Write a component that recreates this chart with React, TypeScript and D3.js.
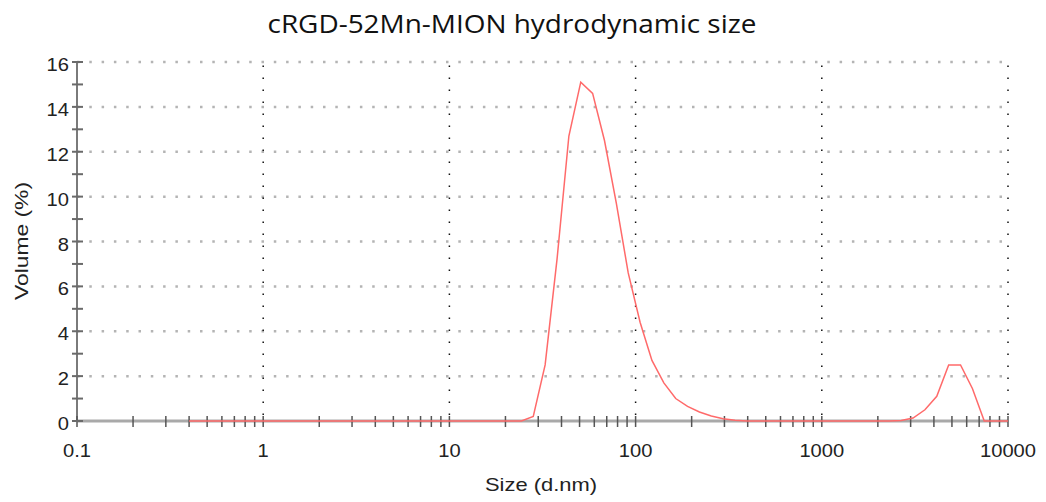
import React from "react";
import * as d3 from "d3";

// Size classes (d.nm) and volume distribution (%)
const sizes: number[] = [
  0.4, 0.4632, 0.5365, 0.6213, 0.7195, 0.8332, 0.9649, 1.117, 1.294, 1.499,
  1.736, 2.01, 2.328, 2.696, 3.122, 3.615, 4.187, 4.849, 5.615, 6.503,
  7.531, 8.721, 10.1, 11.7, 13.54, 15.69, 18.17, 21.04, 24.36, 28.21,
  32.67, 37.84, 43.82, 50.75, 58.77, 68.06, 78.82, 91.28, 105.7, 122.4,
  141.8, 164.2, 190.1, 220.2, 255.0, 295.3, 342.0, 396.1, 458.7, 531.2,
  615.1, 712.4, 825.0, 955.4, 1106, 1281, 1484, 1718, 1990, 2305,
  2669, 3091, 3580, 4145, 4801, 5560, 6439, 7456, 8635, 10000,
];
const volumes: number[] = [
  0, 0, 0, 0, 0, 0, 0, 0, 0, 0,
  0, 0, 0, 0, 0, 0, 0, 0, 0, 0,
  0, 0, 0, 0, 0, 0, 0, 0, 0, 0.2,
  2.5, 7.2, 12.7, 15.1, 14.6, 12.5, 9.7, 6.6, 4.4, 2.7,
  1.7, 1.0, 0.65, 0.4, 0.22, 0.1, 0.03, 0, 0, 0,
  0, 0, 0, 0, 0, 0, 0, 0, 0, 0,
  0.02, 0.13, 0.5, 1.1, 2.5, 2.5, 1.45, 0, 0, 0,
];

const xTickValues: number[] = [0.1, 1, 10, 100, 1000, 10000];
const xTickLabels: string[] = ["0.1", "1", "10", "100", "1000", "10000"];
const yTickValues: number[] = [0, 2, 4, 6, 8, 10, 12, 14, 16];

const title = "cRGD-52Mn-MION hydrodynamic size";
const xLabel = "Size (d.nm)";
const yLabel = "Volume (%)";

const W = 1046;
const H = 502;
const left = 77;
const right = 1008;
const top = 62;
const bottom = 421;

export default function App() {
  const x = d3.scaleLog().domain([0.1, 10000]).range([left, right]);
  const y = d3.scaleLinear().domain([0, 16]).range([bottom, top]);

  const pts: [number, number][] = sizes.map((s, i) => [s, volumes[i]]);
  const line = d3
    .line<[number, number]>()
    .x((d) => x(d[0]))
    .y((d) => y(d[1]))
    .curve(d3.curveLinear);

  // minor ticks on the log axis: 2..9 within each decade, plus the decades
  const xMinor: number[] = [];
  for (let e = -1; e < 4; e++) {
    for (let m = 1; m <= 9; m++) xMinor.push(m * Math.pow(10, e));
  }
  xMinor.push(10000);
  const yMinor = d3.range(0, 17);

  const tickFont = "'Liberation Sans', Arial, sans-serif";

  return (
    <svg
      width={W}
      height={H}
      style={{ position: "absolute", left: 0, top: 0, background: "#fff" }}
    >
      <rect x={0} y={0} width={W} height={H} fill="#fff" />
      <text
        x={512}
        y={33}
        textAnchor="middle"
        fontFamily="'Open Sans', sans-serif"
        fontSize={25}
        textLength={489}
        lengthAdjust="spacingAndGlyphs"
        fill="#111"
      >
        {title}
      </text>

      {/* horizontal grid */}
      {yTickValues
        .filter((v) => v > 0)
        .map((v) => (
          <line
            key={"gy" + v}
            x1={left}
            x2={right}
            y1={y(v)}
            y2={y(v)}
            stroke="#b4b4b4"
            strokeWidth={2.5}
            strokeDasharray="2.5 9.8"
          />
        ))}
      {/* vertical grid */}
      {xTickValues
        .filter((v) => v > 0.1)
        .map((v) => (
          <line
            key={"gx" + v}
            x1={x(v)}
            x2={x(v)}
            y1={bottom}
            y2={top}
            stroke="#111"
            strokeWidth={1.5}
            strokeDasharray="1.5 10.5"
            strokeDashoffset={-6}
          />
        ))}

      {/* axes */}
      <line x1={left} x2={right} y1={bottom} y2={bottom} stroke="#a9a9a9" strokeWidth={3} />
      <line x1={left} x2={left} y1={top} y2={bottom} stroke="#7a7a7a" strokeWidth={2} />
      {xMinor.map((v, i) => (
        <line
          key={"xm" + i}
          x1={x(v)}
          x2={x(v)}
          y1={bottom - 5}
          y2={bottom + 6}
          stroke="#555"
          strokeWidth={1.5}
        />
      ))}
      {yMinor.map((v) => (
        <line
          key={"ym" + v}
          x1={left - 5}
          x2={left + 6}
          y1={y(v)}
          y2={y(v)}
          stroke="#6a6a6a"
          strokeWidth={2}
        />
      ))}

      {/* distribution curve */}
      <path d={line(pts) ?? ""} fill="none" stroke="#ff6a6a" strokeWidth={1.5} />

      {/* tick labels */}
      {yTickValues.map((v) => (
        <g key={"yl" + v} transform={`translate(69,${y(v) + 9}) scale(1.12,1)`}>
          <text textAnchor="end" fontFamily={tickFont} fontSize={18} fill="#222">
            {v}
          </text>
        </g>
      ))}
      {xTickValues.map((v, i) => (
        <g key={"xl" + v} transform={`translate(${x(v)},457) scale(1.12,1)`}>
          <text textAnchor="middle" fontFamily={tickFont} fontSize={18} fill="#222">
            {xTickLabels[i]}
          </text>
        </g>
      ))}

      {/* axis titles */}
      <text
        x={541}
        y={491}
        textAnchor="middle"
        fontFamily={tickFont}
        fontSize={19}
        textLength={112}
        lengthAdjust="spacingAndGlyphs"
        fill="#222"
      >
        {xLabel}
      </text>
      <text
        transform="translate(28,241) rotate(-90)"
        textAnchor="middle"
        fontFamily={tickFont}
        fontSize={19}
        textLength={118}
        lengthAdjust="spacingAndGlyphs"
        fill="#222"
      >
        {yLabel}
      </text>
    </svg>
  );
}
